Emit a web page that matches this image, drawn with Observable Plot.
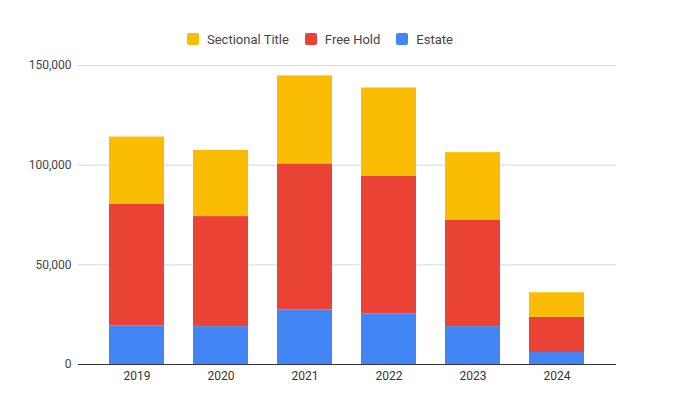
<!DOCTYPE html>
<html>
<head>
<meta charset="utf-8">
<script src="https://cdn.jsdelivr.net/npm/d3@7"></script>
<script src="https://cdn.jsdelivr.net/npm/@observablehq/plot@0.6"></script>
<style>
  html, body { margin: 0; padding: 0; background: #fff; }
  body { width: 676px; height: 396px; overflow: hidden; font-family: Roboto, Arial, sans-serif; }
  #legend { height: 55px; box-sizing: border-box; padding-top: 32px; padding-left: 187px; display: flex; align-items: flex-start; }
  .item { display: flex; align-items: center; height: 14px; margin-right: 16px; font-size: 13px; color: #444; }
  .sw { width: 12px; height: 12px; border-radius: 2px; margin-right: 8px; }
</style>
</head>
<body>
<div id="legend"></div>
<div id="chart"></div>
<script>
const years = ["2019", "2020", "2021", "2022", "2023", "2024"];
const estate = [19300, 19000, 27300, 25300, 19000, 6000];
const freeHold = [61000, 55200, 73300, 69200, 53500, 17700];
const sectionalTitle = [33800, 33200, 44200, 44200, 33800, 12300];
const seriesNames = ["Estate", "Free Hold", "Sectional Title"];
const seriesColors = ["#4285F4", "#EA4335", "#FBBC04"];
const legendOrder = ["Sectional Title", "Free Hold", "Estate"];
const yTicks = [0, 50000, 100000, 150000];

const seriesValues = [estate, freeHold, sectionalTitle];
const data = [];
seriesNames.forEach((s, i) => {
  years.forEach((y, j) => data.push({year: y, series: s, value: seriesValues[i][j]}));
});

const legend = document.getElementById("legend");
legendOrder.forEach(name => {
  const it = document.createElement("div");
  it.className = "item";
  const sw = document.createElement("div");
  sw.className = "sw";
  sw.style.background = seriesColors[seriesNames.indexOf(name)];
  const t = document.createElement("span");
  t.textContent = name;
  it.appendChild(sw); it.appendChild(t);
  legend.appendChild(it);
});

const fmt = d3.format(",");
const chart = Plot.plot({
  width: 676,
  height: 341,
  marginLeft: 78,
  marginRight: 60,
  marginTop: 10,
  marginBottom: 32,
  style: {fontFamily: "Roboto, Arial, sans-serif", fontSize: "12px", color: "#444", background: "#fff"},
  x: {domain: years, paddingInner: 0.34, paddingOuter: 0, insetLeft: 29, insetRight: 29, label: null},
  y: {domain: [0, 150000], label: null},
  color: {domain: seriesNames, range: seriesColors},
  marks: [
    Plot.gridY(yTicks, {stroke: "#d9d9d9", strokeOpacity: 1}),
    Plot.axisY(yTicks, {tickSize: 0, tickPadding: 7, tickFormat: fmt, fill: "#444", label: null}),
    Plot.axisX({tickSize: 0, tickPadding: 7, fill: "#333", label: null}),
    Plot.barY(data, {x: "year", y: "value", fill: "series"}),
    Plot.ruleY([0], {stroke: "#333", strokeWidth: 1})
  ]
});
document.getElementById("chart").appendChild(chart);
</script>
</body>
</html>
